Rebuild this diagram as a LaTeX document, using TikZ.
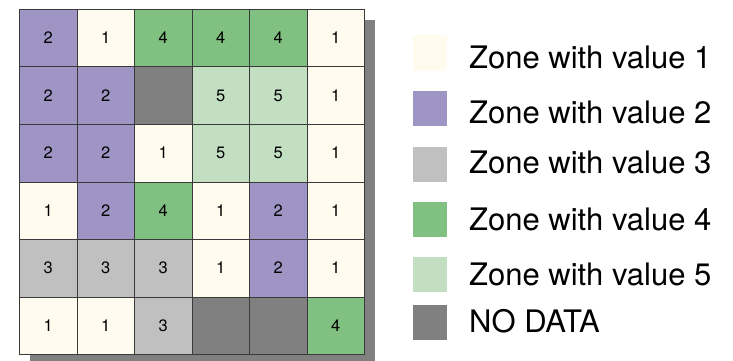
\documentclass[tikz,border=0pt]{standalone}
\usepackage{fontspec}
\setmainfont{TeX Gyre Heros}
\usepackage{tikz}

\definecolor{z1}{HTML}{FFFBEF}
\definecolor{z2}{HTML}{9E95C5}
\definecolor{z3}{HTML}{C0C0C0}
\definecolor{z4}{HTML}{80C080}
\definecolor{z5}{HTML}{C2DFC2}
\definecolor{zN}{HTML}{808080}
\definecolor{gridline}{HTML}{3A3A3A}

\tikzset{
  cell/.style={draw=gridline, line width=0.6pt, minimum size=57.5pt, inner sep=0pt,
    font=\fontsize{16.5}{18}\selectfont},
  keybox/.style={minimum width=34pt, minimum height=35pt, inner sep=0pt},
  keytext/.style={anchor=base west, inner sep=0pt, font=\fontsize{31}{36}\selectfont}
}

\begin{document}
\begin{tikzpicture}[x=1pt,y=-1pt]
\useasboundingbox (0,0) rectangle (733,361);
% shadow behind the raster
\fill[zN] (30,20) rectangle (375,361);
% raster cells: column/row/value
\foreach \c/\r/\v in {1/1/2, 2/1/1, 3/1/4, 4/1/4, 5/1/4, 6/1/1,
                      1/2/2, 2/2/2,        4/2/5, 5/2/5, 6/2/1,
                      1/3/2, 2/3/2, 3/3/1, 4/3/5, 5/3/5, 6/3/1,
                      1/4/1, 2/4/2, 3/4/4, 4/4/1, 5/4/2, 6/4/1,
                      1/5/3, 2/5/3, 3/5/3, 4/5/1, 5/5/2, 6/5/1,
                      1/6/1, 2/6/1, 3/6/3,               6/6/4}
  \node[cell, fill=z\v] (c-\c-\r) at ({19.5+57.5*(\c-0.5)},{9.3+57.5*(\r-0.5)}) {\v};
% cells with no data
\foreach \c/\r in {3/2, 4/6, 5/6}
  \node[cell, fill=zN] (c-\c-\r) at ({19.5+57.5*(\c-0.5)},{9.3+57.5*(\r-0.5)}) {};
\draw[gridline, line width=1pt] (19.5,9.3) rectangle (364.5,354.3);
% legend
\foreach \k/\yc/\yb/\txt in {1/53/68.3/Zone with value 1,
                             2/108.5/123.3/Zone with value 2,
                             3/164/173.3/Zone with value 3,
                             4/219/230/Zone with value 4,
                             5/274/285/Zone with value 5,
                             N/322.5/332.7/NO DATA}{
  \node[keybox, fill=z\k] (key-\k) at (430,\yc) {};
  \node[keytext] (lab-\k) at (469,\yb) {\txt};
}
\end{tikzpicture}
\end{document}
